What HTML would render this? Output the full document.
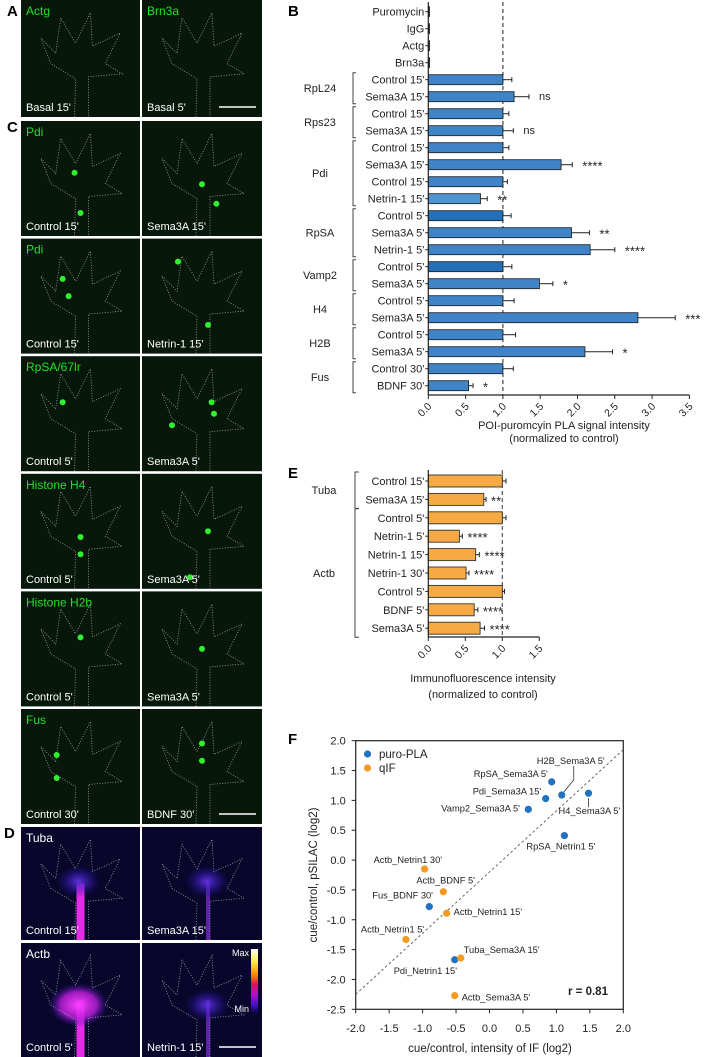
<!DOCTYPE html>
<html><head><meta charset="utf-8">
<style>
html,body{margin:0;padding:0;background:#fff;}
svg{display:block;font-family:"Liberation Sans",Arial,sans-serif;}
</style></head>
<body>
<svg id="fig" width="704" height="1057" viewBox="0 0 704 1057" xmlns="http://www.w3.org/2000/svg">
<defs>
<linearGradient id="cbar" x1="0" y1="0" x2="0" y2="1">
<stop offset="0" stop-color="#ffffff"/><stop offset="0.2" stop-color="#ffee40"/><stop offset="0.4" stop-color="#ff8a00"/><stop offset="0.55" stop-color="#e0105a"/><stop offset="0.72" stop-color="#b010d0"/><stop offset="0.88" stop-color="#4010c0"/><stop offset="1" stop-color="#0a0640"/>
</linearGradient>
<radialGradient id="mag" cx="0.5" cy="0.5" r="0.5"><stop offset="0" stop-color="#ff40ff"/><stop offset="0.6" stop-color="#c020e0" stop-opacity="0.8"/><stop offset="1" stop-color="#3010a0" stop-opacity="0"/></radialGradient>
<radialGradient id="blu" cx="0.5" cy="0.5" r="0.5"><stop offset="0" stop-color="#6030e0"/><stop offset="1" stop-color="#2010a0" stop-opacity="0"/></radialGradient>
</defs>
<g id="tiles"></g>
<g id="panelB"></g>
<g id="panelE"></g>
<g id="panelF"></g>
<text x="7" y="16" font-size="15" font-weight="bold">A</text>
<text x="7" y="132" font-size="15" font-weight="bold">C</text>
<text x="4" y="838" font-size="15" font-weight="bold">D</text>
<text x="288" y="16" font-size="15" font-weight="bold">B</text>
<text x="288" y="478" font-size="15" font-weight="bold">E</text>
<text x="288" y="744" font-size="15" font-weight="bold">F</text>
</svg>
<script>
// ---------- Panel B data ----------
const bLabels = ["Puromycin","IgG","Actg","Brn3a","Control 15'","Sema3A 15'","Control 15'","Sema3A 15'","Control 15'","Sema3A 15'","Control 15'","Netrin-1 15'","Control 5'","Sema3A 5'","Netrin-1 5'","Control 5'","Sema3A 5'","Control 5'","Sema3A 5'","Control 5'","Sema3A 5'","Control 30'","BDNF 30'"];
const bValues = [0.01,0.015,0.01,0.005,1.0,1.15,1.0,1.0,1.0,1.78,1.0,0.70,1.0,1.92,2.17,1.0,1.49,1.0,2.81,1.0,2.10,1.0,0.54];
const bErrors = [0,0,0,0,0.12,0.20,0.08,0.14,0.08,0.15,0.06,0.09,0.11,0.24,0.33,0.12,0.18,0.15,0.50,0.17,0.37,0.14,0.06];
const bSig = ["","","","","","ns","","ns","","****","","**","","**","****","","*","","***","","*","","*"];
const bGroups = [["RpL24",4,5],["Rps23",6,7],["Pdi",8,11],["RpSA",12,14],["Vamp2",15,16],["H4",17,18],["H2B",19,20],["Fus",21,22]];
const bTicks = ["0.0","0.5","1.0","1.5","2.0","2.5","3.0","3.5"];
// ---------- Panel E data ----------
const eLabels = ["Control 15'","Sema3A 15'","Control 5'","Netrin-1 5'","Netrin-1 15'","Netrin-1 30'","Control 5'","BDNF 5'","Sema3A 5'"];
const eValues = [1.0,0.75,1.0,0.42,0.64,0.51,1.0,0.62,0.70];
const eErrors = [0.05,0.03,0.05,0.04,0.05,0.04,0.03,0.05,0.06];
const eSig = ["","**","","****","****","****","","****","****"];
const eGroups = [["Tuba",0,1],["Actb",2,8]];
const eTicks = ["0.0","0.5","1.0","1.5"];
// ---------- Panel F data ----------
const fNames = ["H2B_Sema3A 5'","RpSA_Sema3A 5'","Pdi_Sema3A 15'","Vamp2_Sema3A 5'","H4_Sema3A 5'","RpSA_Netrin1 5'","Fus_BDNF 30'","Pdi_Netrin1 15'","Actb_Netrin1 30'","Actb_BDNF 5'","Actb_Netrin1 15'","Actb_Netrin1 5'","Tuba_Sema3A 15'","Actb_Sema3A 5'"];
const fX = [1.08,0.93,0.84,0.58,1.48,1.12,-0.90,-0.52,-0.97,-0.69,-0.64,-1.25,-0.43,-0.52];
const fY = [1.09,1.31,1.03,0.85,1.12,0.41,-0.78,-1.67,-0.15,-0.53,-0.89,-1.33,-1.64,-2.27];
const fSeries = ["puro","puro","puro","puro","puro","puro","puro","puro","qIF","qIF","qIF","qIF","qIF","qIF"];
const fXTicks = ["-2.0","-1.5","-1.0","-0.5","0.0","0.5","1.0","1.5","2.0"];
const fYTicks = ["2.0","1.5","1.0","0.5","0.0","-0.5","-1.0","-1.5","-2.0","-2.5"];
const fR = "r = 0.81";

const NS="http://www.w3.org/2000/svg";
function mk(parent,tag,attrs,txt){const e=document.createElementNS(NS,tag);for(const k in attrs)e.setAttribute(k,attrs[k]);if(txt!==undefined)e.textContent=txt;parent.appendChild(e);return e;}

// ---------- Tiles ----------
(function(){
  const g=document.getElementById('tiles');
  const cols=[[21,119],[142,120]];
  const rows=[];
  rows.push({top:0,h:117,kind:'g',title:["Actg","Brn3a"],lab:["Basal 15'","Basal 5'"],bar:true});
  const gt=[["Pdi",["Control 15'","Sema3A 15'"]],["Pdi",["Control 15'","Netrin-1 15'"]],["RpSA/67lr",["Control 5'","Sema3A 5'"]],["Histone H4",["Control 5'","Sema3A 5'"]],["Histone H2b",["Control 5'","Sema3A 5'"]],["Fus",["Control 30'","BDNF 30'"]]];
  gt.forEach((r,k)=>rows.push({top:121+k*117.6,h:115,kind:'g',title:[r[0],""],lab:r[1],bar:k==5}));
  rows.push({top:827,h:113,kind:'d',title:["Tuba",""],lab:["Control 15'","Sema3A 15'"],bar:false,tuba:true});
  rows.push({top:943,h:114,kind:'d',title:["Actb",""],lab:["Control 5'","Netrin-1 15'"],bar:true,cbar:true});
  const blobs=[[],[[0.5,0.55],[0.62,0.72]],[[0.55,0.75],[0.3,0.2]],[[0.58,0.4],[0.6,0.5],[0.25,0.6]],[[0.4,0.9],[0.55,0.5]],[[0.5,0.5]],[[0.5,0.3],[0.5,0.45]],[[0.55,0.5],[0.45,0.6]],[[0.35,0.3],[0.3,0.5],[0.45,0.6]]];
  const spots=[[],[[0.45,0.45],[0.5,0.8]],[[0.4,0.5],[0.35,0.35]],[[0.35,0.4]],[[0.5,0.55],[0.5,0.7]],[[0.5,0.4]],[[0.3,0.4],[0.3,0.6]],[],[]];
  rows.forEach((r,ri)=>{
    cols.forEach((c,ci)=>{
      const x=c[0],w=c[1];
      const t=mk(g,'rect',{x:x,y:r.top,width:w,height:r.h,fill:r.kind=='g'?'#07170a':'#08062a'});
      
      
      const cx=x+w*0.5, cy=r.top+r.h*0.5;
      if(r.kind=='d'){
        const big = ci==0;
        mk(g,'rect',{x:cx-4+(ci?8:0),y:cy,width:big?8:4,height:r.h/2,fill:big?'#ff30ff':'#8030e0',opacity:big?0.9:0.7});
        mk(g,'ellipse',{cx:cx+(ci?5:-2),cy:cy+(r.cbar?5:-2),rx:big&&r.cbar?30:22,ry:big&&r.cbar?22:16,fill:big&&r.cbar?'url(#mag)':'url(#blu)'});
      }
      const s=w/120, h=r.h/115;
      const p=`M${cx-6*s} ${r.top+r.h} L${cx-5*s} ${cy+20*h} L${cx-30*s} ${cy+5*h} L${cx-40*s} ${cy-20*h} L${cx-25*s} ${cy-5*h} L${cx-20*s} ${cy-40*h} L${cx-5*s} ${cy-15*h} L${cx+10*s} ${cy-45*h} L${cx+12*s} ${cy-12*h} L${cx+40*s} ${cy-25*h} L${cx+25*s} ${cy+5*h} L${cx+42*s} ${cy+15*h} L${cx+8*s} ${cy+18*h} L${cx+8*s} ${r.top+r.h}`;
      mk(g,'path',{d:p,fill:'none',stroke:'#b8b8c0','stroke-width':0.8,'stroke-dasharray':'1 1.6',opacity:0.85});
      if(r.kind=='g'){
        const list=ci?blobs[ri]:spots[ri];
        list.forEach(b=>mk(g,'circle',{cx:x+b[0]*w,cy:r.top+b[1]*r.h,r:3,fill:'#30f030'}));
      }
      const tt=r.title[ci];
      if(tt){const e=mk(g,'text',{x:x+5,y:r.top+15,'font-size':12,fill:r.kind=='g'?'#22e022':'#ffffff'},tt);
        
        }
      const lb=mk(g,'text',{x:x+5,y:r.top+r.h-6,'font-size':11,fill:'#ffffff'},r.lab[ci]);
      
      
    });
    if(r.bar){const sb=mk(g,'line',{x1:219,x2:256,y1:r.top+r.h-10,y2:r.top+r.h-10,stroke:'#fff','stroke-width':1.5});
      
      }
    if(r.cbar){
      const cb=mk(g,'rect',{x:251,y:r.top+6,width:7,height:64,fill:'url(#cbar)'});
      
      
      mk(g,'text',{x:249,y:r.top+13,'font-size':9,fill:'#fff','text-anchor':'end'},'Max');
      mk(g,'text',{x:249,y:r.top+69,'font-size':9,fill:'#fff','text-anchor':'end'},'Min');
    }
  });
})();

// ---------- Panel B ----------
(function(){
  const g=document.getElementById('panelB');
  const x0=428.3, ux=74.6, axY=395;
  const xs=v=>x0+v*ux, ys=i=>11.7+17.0*i;
  mk(g,'line',{x1:xs(1),x2:xs(1),y1:2,y2:axY,stroke:'#444','stroke-width':1.2,'stroke-dasharray':'4 3'});
  bLabels.forEach((lab,i)=>{
    const y=ys(i), v=bValues[i];
    let fill='#3f84c6';
    if(lab.startsWith('Netrin-1 15')) fill='#4f95d4';
    if(i==12||i==15) fill='#2470b8';
    const bar=mk(g,'rect',{x:xs(0),y:y-5,width:Math.max(xs(v)-xs(0),1.2),height:10,fill:i<4?'#111':fill,stroke:'#1b1b1b','stroke-width':0.8});
    
    
    if(bErrors[i]>0){
      mk(g,'line',{x1:xs(v),x2:xs(v+bErrors[i]),y1:y,y2:y,stroke:'#222','stroke-width':1});
      mk(g,'line',{x1:xs(v+bErrors[i]),x2:xs(v+bErrors[i]),y1:y-2.5,y2:y+2.5,stroke:'#222','stroke-width':1});
    }
    if(bSig[i]){const s=mk(g,'text',{x:xs(v+bErrors[i])+10,y:y+(bSig[i]=='ns'?3.5:6),'font-size':bSig[i]=='ns'?11:13,fill:'#222'},bSig[i]);
      
      }
    mk(g,'line',{x1:xs(0)-3,x2:xs(0),y1:y,y2:y,stroke:'#222'});
    const t=mk(g,'text',{x:xs(0)-4,y:y+4,'font-size':11,'text-anchor':'end',fill:'#222'},lab);
    
    
  });
  bGroups.forEach(gr=>{
    const y1=ys(gr[1])-7,y2=ys(gr[2])+7;
    mk(g,'path',{d:`M356 ${y1} L353 ${y1} L353 ${y2} L356 ${y2}`,fill:'none',stroke:'#444','stroke-width':1});
    const t=mk(g,'text',{x:320,y:(y1+y2)/2+4,'font-size':11,'text-anchor':'middle',fill:'#222'},gr[0]);
    
    
  });
  mk(g,'line',{x1:xs(0),x2:xs(0),y1:2,y2:axY,stroke:'#222','stroke-width':1.2});
  mk(g,'line',{x1:xs(0),x2:xs(3.5),y1:axY,y2:axY,stroke:'#222','stroke-width':1.2});
  bTicks.forEach((tk,k)=>{
    const x=xs(parseFloat(tk));
    mk(g,'line',{x1:x,x2:x,y1:axY,y2:axY+4,stroke:'#222'});
    const t=mk(g,'text',{x:x+4,y:axY+12,'font-size':10.5,'text-anchor':'end',fill:'#222',transform:`rotate(-45 ${x+4} ${axY+12})`},tk);
    
    
  });
  const t1=mk(g,'text',{x:564,y:429,'font-size':11,'text-anchor':'middle',fill:'#222'},'POI-puromcyin PLA signal intensity');
  
  
  mk(g,'text',{x:564,y:442,'font-size':11,'text-anchor':'middle',fill:'#222'},'(normalized to control)');
})();

// ---------- Panel E ----------
(function(){
  const g=document.getElementById('panelE');
  const x0=428.3, ux=74, axY=637;
  const xs=v=>x0+v*ux, ys=i=>481+18.4*i;
  mk(g,'line',{x1:xs(1),x2:xs(1),y1:470,y2:axY,stroke:'#555','stroke-width':1.2,'stroke-dasharray':'4 3'});
  eLabels.forEach((lab,i)=>{
    const y=ys(i), v=eValues[i];
    const bar=mk(g,'rect',{x:xs(0),y:y-6,width:xs(v)-xs(0),height:12,fill:'#f6aa45',stroke:'#333','stroke-width':0.9});
    
    
    const xe=xs(v+eErrors[i]);
    mk(g,'line',{x1:xs(v),x2:xe,y1:y,y2:y,stroke:'#222'});
    mk(g,'line',{x1:xe,x2:xe,y1:y-2.5,y2:y+2.5,stroke:'#222'});
    if(eSig[i]){const s=mk(g,'text',{x:xe+5,y:y+6,'font-size':13,fill:'#222'},eSig[i]);
      
      }
    mk(g,'line',{x1:xs(0)-3,x2:xs(0),y1:y,y2:y,stroke:'#222'});
    const t=mk(g,'text',{x:xs(0)-4,y:y+4,'font-size':11,'text-anchor':'end',fill:'#222'},lab);
    
    
  });
  eGroups.forEach(gr=>{
    const y1=ys(gr[1])-9,y2=ys(gr[2])+9;
    mk(g,'path',{d:`M359 ${y1} L355 ${y1} L355 ${y2} L359 ${y2}`,fill:'none',stroke:'#444','stroke-width':1});
    const t=mk(g,'text',{x:324,y:(y1+y2)/2+4,'font-size':11,'text-anchor':'middle',fill:'#222'},gr[0]);
    
    
  });
  mk(g,'line',{x1:xs(0),x2:xs(0),y1:470,y2:axY,stroke:'#222','stroke-width':1.2});
  mk(g,'line',{x1:xs(0),x2:xs(1.5),y1:axY,y2:axY,stroke:'#222','stroke-width':1.2});
  eTicks.forEach(tk=>{
    const x=xs(parseFloat(tk));
    mk(g,'line',{x1:x,x2:x,y1:axY,y2:axY+4,stroke:'#222'});
    const t=mk(g,'text',{x:x+4,y:axY+12,'font-size':10.5,'text-anchor':'end',fill:'#222',transform:`rotate(-45 ${x+4} ${axY+12})`},tk);
    
    
  });
  const t1=mk(g,'text',{x:483,y:682,'font-size':11,'text-anchor':'middle',fill:'#222'},'Immunofluorescence intensity');
  
  
  mk(g,'text',{x:483,y:698,'font-size':11,'text-anchor':'middle',fill:'#222'},'(normalized to control)');
})();

// ---------- Panel F ----------
const fOffsets=[[-25,-31],[-78,-5],[-73,-4],[-87,2],[-30,21],[-38,14],[-57,-8],[-61,14],[-51,-6],[-27,-8],[7,2],[-45,-7],[3,-5],[7,5]];
(function(){
  const g=document.getElementById('panelF');
  const L=355.7,R=623.3,T=740.7,B=1009.3;
  const xs=v=>L+(v+2)*(R-L)/4, ys=v=>T+(2-v)*(B-T)/4.5;
  const box=mk(g,'rect',{x:L,y:T,width:R-L,height:B-T,fill:'none',stroke:'#222','stroke-width':1.2});
  
  
  const dl=mk(g,'line',{x1:xs(-2),y1:ys(-2.25),x2:xs(2),y2:ys(1.85),stroke:'#555','stroke-width':0.9,'stroke-dasharray':'2.5 2.5'});
  
  
  fXTicks.forEach(tk=>{const x=xs(parseFloat(tk));
    mk(g,'line',{x1:x,x2:x,y1:B,y2:B+4,stroke:'#222'});
    const t=mk(g,'text',{x:x,y:1032,'font-size':11,'text-anchor':'middle',fill:'#222'},tk);
    
    });
  fYTicks.forEach(tk=>{const y=ys(parseFloat(tk));
    mk(g,'line',{x1:L-4,x2:L,y1:y,y2:y,stroke:'#222'});
    const t=mk(g,'text',{x:L-10,y:y+4,'font-size':11,'text-anchor':'end',fill:'#222'},tk);
    
    });
  const xt=mk(g,'text',{x:490,y:1052,'font-size':11.5,'text-anchor':'middle',fill:'#222'},'cue/control, intensity of IF (log2)');
  
  
  const yt=mk(g,'text',{x:317,y:875,'font-size':11.5,'text-anchor':'middle',fill:'#222',transform:'rotate(-90 317 875)'},'cue/control, pSILAC (log2)');
  
  
  const px0=xs(fX[0]),py0=ys(fY[0]);
  mk(g,'polyline',{points:`${px0+12},${py0-29} ${px0+12},${py0-15} ${px0+2},${py0-3}`,fill:'none',stroke:'#333','stroke-width':0.8});
  const px4=xs(fX[4]),py4=ys(fY[4]);
  mk(g,'line',{x1:px4,x2:px4,y1:py4+5,y2:py4+14,stroke:'#333','stroke-width':0.8});
  fNames.forEach((n,i)=>{
    const px=xs(fX[i]),py=ys(fY[i]);
    const c=mk(g,'circle',{cx:px,cy:py,r:3.6,fill:fSeries[i]=='puro'?'#2372c0':'#f39a25'});
    
    
    const t=mk(g,'text',{x:px+fOffsets[i][0],y:py+fOffsets[i][1],'font-size':9.3,fill:'#222'},n);
    
    
  });
  const lg1=mk(g,'circle',{cx:367.5,cy:754,r:3.6,fill:'#2372c0'});
  
  
  const lt1=mk(g,'text',{x:379,y:758,'font-size':11.5,fill:'#222'},'puro-PLA');
  
  
  const lg2=mk(g,'circle',{cx:367.5,cy:768,r:3.6,fill:'#f39a25'});
  
  
  const lt2=mk(g,'text',{x:379,y:772,'font-size':11.5,fill:'#222'},'qIF');
  
  
  const rt=mk(g,'text',{x:568,y:995,'font-size':11.5,'font-weight':'bold',fill:'#222'},fR);
  
  
})();
</script>
</body></html>
